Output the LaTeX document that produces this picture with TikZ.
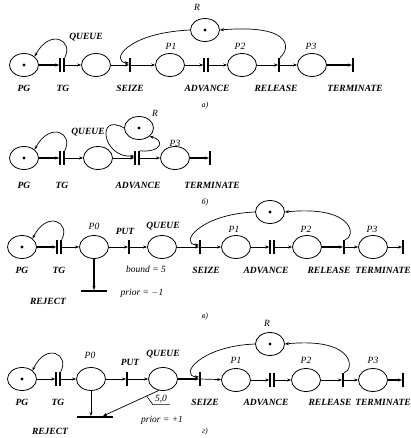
\documentclass[tikz,border=0pt]{standalone}
\usepackage{fontspec}
\setmainfont{Liberation Serif}
\usetikzlibrary{arrows.meta,shapes.geometric,calc}
\begin{document}
\begin{tikzpicture}[x=1pt,y=-1pt,
 place/.style={draw, ellipse, line width=0.8pt, minimum width=29pt, minimum height=23pt, inner sep=0pt},
 tok/.style={place, path picture={\fill (path picture bounding box.center) circle (1.7pt);}},
 bar/.style={fill=black, rectangle, minimum width=1.6pt, minimum height=14pt, inner sep=0pt},
 hbar/.style={fill=black, rectangle, minimum height=1.6pt, inner sep=0pt},
 dbar/.style={rectangle, minimum width=5pt, minimum height=14pt, inner sep=0pt},
 arc/.style={line width=0.7pt, -{Stealth[length=4pt,width=3pt]}},
 tarc/.style={arc, line width=1.3pt},
 lab/.style={font=\fontsize{9.5}{11}\selectfont\bfseries\itshape, inner sep=0pt},
 plab/.style={font=\fontsize{9.5}{11}\selectfont\itshape, inner sep=0pt},
 sublab/.style={font=\fontsize{8}{9}\selectfont\itshape, inner sep=0pt}
]
\path[use as bounding box] (0,0) rectangle (410,438);

% ---------------- a)
\node[tok] (PGa) at (24,65) {};
\node[dbar] (TGa) at (62,65) {};
\node[place] (Qa) at (96,65) {};
\node[bar] (Sa) at (130,65) {};
\node[place] (P1a) at (170,65) {};
\node[dbar] (Aa) at (206,65) {};
\node[place] (P2a) at (242,65) {};
\node[bar] (Rla) at (279,65) {};
\node[place] (P3a) at (312,65) {};
\node[bar] (Ta) at (353,65) {};
\node[tok] (Ra) at (205,30) {};
\draw[tarc] (PGa) -- (TGa);
\draw[arc] (TGa) -- (Qa);
\draw[arc] (Qa) -- (Sa);
\draw[arc] (Sa) -- (P1a);
\draw[arc] (P1a) -- (Aa);
\draw[arc] (Aa) -- (P2a);
\draw[arc] (P2a) -- (Rla);
\draw[arc] (Rla) -- (P3a);
\draw[tarc] (P3a) -- (Ta);
\draw[arc] (TGa.north east) .. controls (74,40) and (50,28) .. (PGa.north east);
\draw[arc] (Ra.west) .. controls (125,33) and (110,62) .. ([yshift=2pt]Sa.west);
\draw[arc] (Rla.north east) .. controls (291,48) and (292,24) .. (Ra.east);
\node[lab] (la1) at (24,88) {PG};
\node[lab] (la2) at (63,88) {TG};
\node[lab] (la3) at (130,88) {SEIZE};
\node[lab] (la4) at (207,88) {ADVANCE};
\node[lab] (la5) at (276,88) {RELEASE};
\node[lab] (la6) at (355,88) {TERMINATE};
\node[lab] (la7) at (86,37) {QUEUE};
\node[plab] (la8) at (171,46) {P1};
\node[plab] (la9) at (240,46) {P2};
\node[plab] (la10) at (311,46) {P3};
\node[plab] (la11) at (197,7) {R};
\node[sublab] (la12) at (205,106) {a)};

% ---------------- b)
\node[tok] (PGb) at (24,158) {};
\node[dbar] (TGb) at (62,158) {};
\node[place] (Qb) at (98,158) {};
\node[dbar] (Ab) at (137,158) {};
\node[place] (P3b) at (175,158) {};
\node[bar] (Tb) at (210,158) {};
\node[tok] (Rb) at (139,128) {};
\draw[tarc] (PGb) -- (TGb);
\draw[arc] (TGb) -- (Qb);
\draw[arc] (Qb) -- (Ab);
\draw[arc] (Ab) -- (P3b);
\draw[tarc] (P3b) -- (Tb);
\draw[arc] (TGb.north east) .. controls (74,133) and (50,121) .. (PGb.north east);
\draw[arc] (Rb.west) .. controls (96,112) and (102,158) .. ([yshift=2pt]Ab.west);
\draw[arc] (Ab.north east) .. controls (162,153) and (165,140) .. (Rb.south east);
\node[lab] (lb1) at (24,185) {PG};
\node[lab] (lb2) at (62,185) {TG};
\node[lab] (lb3) at (138,185) {ADVANCE};
\node[lab] (lb4) at (212,185) {TERMINATE};
\node[lab] (lb5) at (88,132) {QUEUE};
\node[plab] (lb6) at (155,113) {R};
\node[plab] (lb7) at (175,143) {P3};
\node[sublab] (lb8) at (205,202) {б)};

% ---------------- v)
\node[tok] (PGc) at (22,247) {};
\node[dbar] (TGc) at (59,247) {};
\node[place] (P0c) at (94,247) {};
\node[bar] (PUc) at (129,247) {};
\node[place] (Qc) at (162,247) {};
\node[bar] (Sc) at (200,247) {};
\node[place] (P1c) at (236,247) {};
\node[dbar] (Ac) at (272,247) {};
\node[place] (P2c) at (307,247) {};
\node[bar] (Rlc) at (344,247) {};
\node[place] (P3c) at (373,247) {};
\node[bar] (Tc) at (403,247) {};
\node[tok] (Rc) at (270,212) {};
\node[hbar, minimum width=26pt] (REJc) at (94,291) {};
\draw[tarc] (PGc) -- (TGc);
\draw[arc] (TGc) -- (P0c);
\draw[arc] (P0c) -- (PUc);
\draw[arc] (PUc) -- (Qc);
\draw[arc] (Qc) -- (Sc);
\draw[arc] (Sc) -- (P1c);
\draw[arc] (P1c) -- (Ac);
\draw[arc] (Ac) -- (P2c);
\draw[tarc] (P2c) -- (Rlc);
\draw[arc] (Rlc) -- (P3c);
\draw[arc] (P3c) -- (Tc);
\draw[tarc] (P0c) -- (REJc);
\draw[arc] (TGc.north east) .. controls (71,222) and (47,210) .. (PGc.north east);
\draw[arc] (Rc.west) .. controls (200,214) and (178,244) .. ([yshift=2pt]Sc.west);
\draw[arc] (Rlc.north east) .. controls (356,238) and (356,205) .. (Rc.east);
\node[lab] (lc1) at (22,270) {PG};
\node[lab] (lc2) at (59,270) {TG};
\node[plab] (lc3) at (94,226) {P0};
\node[lab] (lc4) at (125,231) {PUT};
\node[lab] (lc5) at (163,226) {QUEUE};
\node[plab] (lc6) at (146,269) {bound = 5};
\node[lab] (lc7) at (206,270) {SEIZE};
\node[lab] (lc8) at (266,270) {ADVANCE};
\node[lab] (lc9) at (329,270) {RELEASE};
\node[lab] (lc10) at (383,270) {TERMINATE};
\node[plab] (lc11) at (234,229) {P1};
\node[plab] (lc12) at (306,229) {P2};
\node[plab] (lc13) at (372,229) {P3};
\node[lab] (lc14) at (48,301) {REJECT};
\node[plab] (lc15) at (142,293) {prior = $-$1};
\node[sublab] (lc16) at (205,317) {в)};

% ---------------- g)
\node[tok] (PGd) at (22,379) {};
\node[dbar] (TGd) at (58,379) {};
\node[place] (P0d) at (91,379) {};
\node[bar] (PUd) at (127,379) {};
\node[place] (Qd) at (163,379) {};
\node[bar] (Sd) at (200,379) {};
\node[place] (P1d) at (236,380) {};
\node[dbar] (Ad) at (272,380) {};
\node[place] (P2d) at (306,380) {};
\node[bar] (Rld) at (343,380) {};
\node[place] (P3d) at (373,380) {};
\node[bar] (Td) at (403,380) {};
\node[tok] (Rd) at (270,344) {};
\node[hbar, minimum width=36pt] (REJd) at (95,417) {};
\draw[arc] (PGd) -- (TGd);
\draw[arc] (TGd) -- (P0d);
\draw[arc] (P0d) -- (PUd);
\draw[arc] (PUd) -- (Qd);
\draw[tarc] (Qd) -- (Sd);
\draw[arc] (Sd) -- (P1d);
\draw[arc] (P1d) -- (Ad);
\draw[arc] (Ad) -- (P2d);
\draw[arc] (P2d) -- (Rld);
\draw[arc] (Rld) -- (P3d);
\draw[tarc] (P3d) -- (Td);
\draw[arc] (P0d.south) -- (P0d.south |- REJd.north);
\draw[arc] (Qd.250) -- coordinate[pos=0.22] (lead) ([xshift=8pt]REJd.north);
\draw[arc] (TGd.north east) .. controls (70,354) and (46,342) .. (PGd.north east);
\draw[arc] (Rd.west) .. controls (200,346) and (178,376) .. ([yshift=2pt]Sd.west);
\draw[arc] (Rld.north east) .. controls (355,370) and (355,337) .. (Rd.east);
\node[plab] (l50) at (161,399) {5,0};
\draw[line width=0.6pt] (lead) -- ([xshift=-2pt,yshift=-1.5pt]l50.south west) -- ([xshift=3pt,yshift=-1.5pt]l50.south east);
\node[lab] (ld1) at (22,402) {PG};
\node[lab] (ld2) at (58,402) {TG};
\node[plab] (ld3) at (90,355) {P0};
\node[lab] (ld4) at (130,362) {PUT};
\node[lab] (ld5) at (163,354) {QUEUE};
\node[lab] (ld6) at (205,402) {SEIZE};
\node[lab] (ld7) at (266,402) {ADVANCE};
\node[lab] (ld8) at (330,402) {RELEASE};
\node[lab] (ld9) at (383,402) {TERMINATE};
\node[plab] (ld10) at (236,360) {P1};
\node[plab] (ld11) at (306,360) {P2};
\node[plab] (ld12) at (373,360) {P3};
\node[plab] (ld13) at (267,323) {R};
\node[lab] (ld14) at (50,431) {REJECT};
\node[plab] (ld15) at (162,420) {prior = +1};
\node[sublab] (ld16) at (205,432) {г)};

% double bars of the timed transitions
\foreach \n in {TGa,Aa,TGb,Ab,TGc,Ac,TGd,Ad}{
  \fill (\n.north west) rectangle ([xshift=1.5pt]\n.south west);
  \fill ([xshift=-1.5pt]\n.north east) rectangle (\n.south east);
}
\end{tikzpicture}
\end{document}
